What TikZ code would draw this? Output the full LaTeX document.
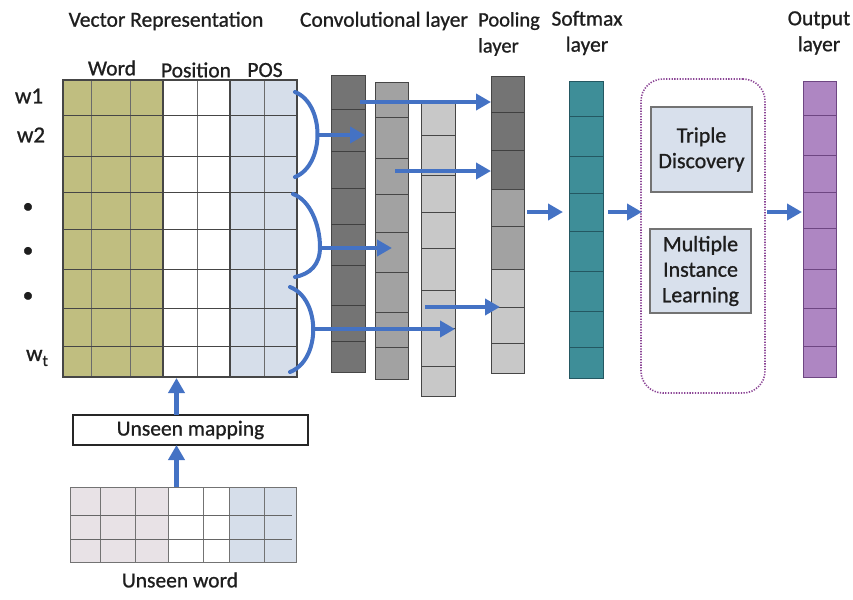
\documentclass[tikz,border=0pt]{standalone}
\usepackage{fontspec}
\setmainfont{Carlito}[FakeBold=0.9]
\usetikzlibrary{arrows.meta}
\definecolor{wordc}{RGB}{192,190,128}
\definecolor{posc}{RGB}{214,222,234}
\definecolor{gridl}{RGB}{70,70,70}
\definecolor{darkg}{RGB}{116,116,116}
\definecolor{midg}{RGB}{162,162,162}
\definecolor{lightg}{RGB}{200,200,200}
\definecolor{teal}{RGB}{62,142,152}
\definecolor{teall}{RGB}{36,88,98}
\definecolor{outc}{RGB}{174,134,194}
\definecolor{outl}{RGB}{110,70,130}
\definecolor{milc}{RGB}{140,70,150}
\definecolor{boxc}{RGB}{216,224,236}
\definecolor{ablue}{RGB}{68,114,196}
\definecolor{pinkc}{RGB}{232,226,230}
\definecolor{txt}{RGB}{30,30,30}
\begin{document}
\begin{tikzpicture}[x=1pt,y=-1pt,
  lbl/.style={font=\fontsize{21.5}{26}\selectfont, text=txt, inner sep=0pt, align=center},
  blk/.style={inner sep=0pt, outer sep=0pt, anchor=north west},
  col/.style={blk, draw=gridl, line width=1pt, minimum width=34pt},
  rowl/.style={draw=gridl, line width=1pt},
  arr/.style={draw=ablue, line width=4.5pt, -{Triangle[length=15pt,width=16pt]}},
  brc/.style={draw=ablue, line width=4pt, line cap=round},
  tbox/.style={draw=black!55, line width=1.5pt, fill=boxc, inner sep=0pt, minimum width=101pt, align=center, font=\fontsize{22}{25.5}\selectfont, text=txt}]
\useasboundingbox (0,0) rectangle (853,599);

% ---------- titles ----------
\node[lbl] (tvec) at (166,21) {Vector Representation};
\node[lbl] (tconv) at (384,21) {Convolutional layer};
\node[lbl, font=\fontsize{20.5}{26}\selectfont, align=left, anchor=west] (tpool) at (478,34) {Pooling\\layer};
\node[lbl] (tsoft) at (587,33) {Softmax\\layer};
\node[lbl] (tout) at (819,33) {Output\\layer};
\node[lbl] (tword) at (112,68) {Word};
\node[lbl] (tposn) at (196,70) {Position};
\node[lbl] (tpos) at (265,70) {POS};

% ---------- word labels ----------
\node[lbl, font=\fontsize{23}{25}\selectfont] (w1) at (29,96) {w1};
\node[lbl, font=\fontsize{23}{25}\selectfont] (w2) at (31,135) {w2};
\node[lbl] (d1) at (28,208) {\textbullet};
\node[lbl] (d2) at (28,252) {\textbullet};
\node[lbl] (d3) at (28,297) {\textbullet};
\node[lbl, font=\fontsize{23}{25}\selectfont] (wt) at (37,358) {w\raisebox{-5pt}{\fontsize{16}{16}\selectfont t}};

% ---------- main embedding grid ----------
\node[blk, fill=wordc, minimum width=100pt, minimum height=297pt] (wordblk) at (63,80) {};
\node[blk, fill=white, minimum width=67pt, minimum height=297pt] (posnblk) at (163,80) {};
\node[blk, fill=posc, minimum width=67pt, minimum height=297pt] (posblk) at (230,80) {};
\foreach \x in {91,130,197,264} \draw[draw=gridl!80, line width=1pt] (\x,80) -- (\x,377);
\foreach \y in {116,156,192,229,269,308,346} \draw[rowl] (63,\y) -- (297,\y);
\draw[gridl, line width=1.3pt] (163,80) -- (163,377);
\draw[gridl, line width=1.3pt] (230,80) -- (230,377);
\draw[gridl, line width=1.2pt] (63,80) rectangle (297,377);

% ---------- braces ----------
\draw[brc] (295,92) .. controls (325,104) and (325,165) .. (295,177);
\draw[brc] (293,194) .. controls (310,200) and (320,225) .. (320,247) .. controls (320,265) and (310,274) .. (295,277);
\draw[brc] (290,287) .. controls (321,299) and (321,360) .. (290,372);
\coordinate (b1) at (318,135);
\coordinate (b2) at (319,248);
\coordinate (b3) at (313,329);

% ---------- convolutional columns ----------
\node[col, fill=darkg, minimum height=296pt] (conv1) at (331,76) {};
\foreach \y in {110,151,188,224,265,305,341} \draw[rowl, draw=black!75] (331,\y) -- (365,\y);
\node[col, fill=midg, minimum width=33pt, minimum height=296pt] (conv2) at (375,83) {};
\foreach \y in {118,158,194,232,272,312,347} \draw[rowl] (375,\y) -- (408,\y);
\node[col, fill=lightg, minimum height=293pt] (conv3) at (421,103) {};
\foreach \y in {135,175,212,248,290,328,366} \draw[rowl] (421,\y) -- (455,\y);

% ---------- pooling column ----------
\node[col, fill=darkg, minimum width=33pt, minimum height=112pt] (poola) at (491,77) {};
\node[col, fill=midg, minimum width=33pt, minimum height=80pt] (poolb) at (491,189) {};
\node[col, fill=lightg, minimum width=33pt, minimum height=104pt] (poolc) at (491,269) {};
\foreach \y in {113,150} \draw[rowl, draw=black!75] (491,\y) -- (524,\y);
\draw[rowl] (491,226) -- (524,226);
\foreach \y in {307,343} \draw[rowl] (491,\y) -- (524,\y);

% ---------- softmax column ----------
\node[col, draw=teall, fill=teal, minimum height=296pt] (sm) at (569,82) {};
\foreach \y in {117,156,193,231,271,311,347} \draw[rowl, draw=teall] (569,\y) -- (603,\y);

% ---------- MIL block ----------
\node[blk, draw=milc, line width=1.6pt, dash pattern=on 1.3pt off 1.4pt, rounded corners=22pt, minimum width=124pt, minimum height=314pt] (mil) at (641,79) {};
\node[tbox, minimum height=85pt] (triple) at (701.5,149.5) {Triple\\Discovery};
\node[tbox, minimum height=84pt] (multi) at (700.5,271) {Multiple\\Instance\\Learning};

% ---------- output column ----------
\node[col, draw=outl, fill=outc, minimum width=33pt, minimum height=295pt] (outcol) at (803,82) {};
\foreach \y in {116,155,192,228,269,308,346} \draw[rowl, draw=outl] (803,\y) -- (836,\y);

% ---------- arrows in the CNN part ----------
\draw[arr] (b1) -- (conv1.east |- b1);
\draw[arr] (b2) -- ([xshift=-16pt]conv2.east |- b2);
\draw[arr] (b3) -- (conv3.east |- b3);
\draw[arr] ([xshift=-5pt]conv1.east |- 0,102) -- (poola.west |- 0,102);
\draw[arr] ([xshift=-13pt]conv2.east |- 0,171) -- (poola.west |- 0,171);
\draw[arr] ([xshift=4pt]conv3.west |- 0,307) -- ([xshift=9pt]poolc.west |- 0,307);

% ---------- arrows between layers ----------
\draw[arr] ([xshift=3pt]poolb.east |- 0,212) -- ([xshift=-6pt]sm.west |- 0,212);
\draw[arr] ([xshift=5pt]sm.east |- 0,212) -- ([xshift=1pt]mil.west |- 0,212);
\draw[arr] ([xshift=2pt]mil.east |- 0,212) -- ([xshift=-1pt]outcol.west |- 0,212);

% ---------- unseen word part ----------
\node[blk, draw=black!85, line width=1.6pt, fill=white, minimum width=235pt, minimum height=30pt, font=\fontsize{21.5}{26}\selectfont, text=txt] (map) at (73,415) {Unseen mapping};
\node[blk, fill=pinkc, minimum width=98pt, minimum height=75pt] (uw1) at (70,487) {};
\node[blk, fill=white, minimum width=61pt, minimum height=75pt] (uw2) at (168,487) {};
\node[blk, fill=posc, minimum width=67pt, minimum height=75pt] (uw3) at (229,487) {};
\foreach \x in {100,135,168,203,229,264} \draw[draw=black!55, line width=1pt] (\x,487) -- (\x,562);
\foreach \y in {515,539} \draw[draw=black!60, line width=1pt] (70,\y) -- (292,\y);
\draw[draw=black!55, line width=1pt] (70,487) rectangle (296,562);
\node[lbl] (tunseen) at (180,580) {Unseen word};
\coordinate (ux) at (176.5,0);
\draw[arr] (map.north -| ux) -- ([yshift=-1pt]posnblk.south -| ux);
\draw[arr] (uw1.north -| ux) -- (map.south -| ux);
\end{tikzpicture}
\end{document}
